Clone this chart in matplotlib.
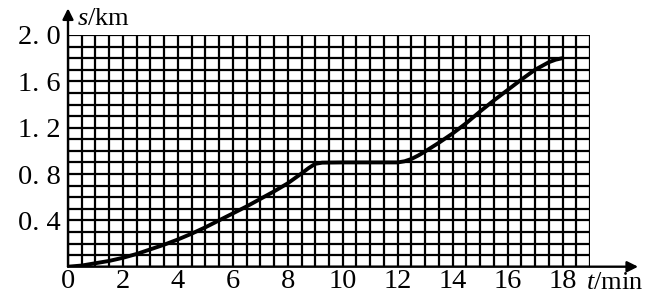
import numpy as np
import matplotlib
matplotlib.use("Agg")
import matplotlib.pyplot as plt

plt.rcParams['font.family'] = ['Liberation Serif', 'DejaVu Serif']
plt.rcParams['mathtext.fontset'] = 'custom'
plt.rcParams['mathtext.it'] = 'Liberation Serif:italic'
plt.rcParams['mathtext.rm'] = 'Liberation Serif'

# distance-time curve (t in min, s in km)
t_vals = [0, 0.5, 1, 1.5, 2, 2.5, 3, 3.5, 4, 4.5, 5, 5.5, 6, 6.5, 7, 7.5, 8, 8.5, 8.75, 9,
          9.25, 10, 11, 12, 12.25, 12.5, 12.75, 13, 13.5, 14, 14.5, 15, 15.5, 16, 16.5, 17,
          17.5, 17.75, 18]
s_vals = [0, 0.01, 0.03, 0.05, 0.077, 0.11, 0.15, 0.19, 0.235, 0.285, 0.34, 0.40, 0.46, 0.52,
          0.585, 0.65, 0.72, 0.805, 0.85, 0.888,
          0.898, 0.90, 0.90, 0.90, 0.91, 0.93, 0.96, 0.995, 1.07, 1.15, 1.24, 1.34, 1.435,
          1.525, 1.615, 1.70, 1.765, 1.787, 1.80]

x_ticks = [0, 2, 4, 6, 8, 10, 12, 14, 16, 18]
y_ticks = [0.4, 0.8, 1.2, 1.6, 2.0]
y_labels = ['0. 4', '0. 8', '1. 2', '1. 6', '2. 0']

fig = plt.figure(figsize=(6.72, 2.96), dpi=100)
ax = fig.add_axes([68 / 672, 29.3 / 296, 522 / 672, 231.7 / 296])
ax.set_xlim(0, 19)
ax.set_ylim(0, 2.0)

# grid paper
for xv in np.arange(0, 19.01, 0.5):
    ax.axvline(xv, color='black', lw=1.6, zorder=1)
for yv in np.arange(0, 2.001, 0.1):
    ax.axhline(yv, color='black', lw=1.6, zorder=1)

ax.plot(t_vals, s_vals, color='black', lw=2.8, solid_capstyle='round',
        solid_joinstyle='round', zorder=3)

for sp in ax.spines.values():
    sp.set_visible(False)

ax.set_xticks(x_ticks)
ax.set_xticklabels([str(v) for v in x_ticks])
ax.set_yticks(y_ticks)
ax.set_yticklabels(y_labels)
ax.tick_params(length=0, labelsize=20.5)
ax.tick_params(axis='x', pad=2)
ax.tick_params(axis='y', pad=5)

# axes with arrows
ax.annotate('', xy=(20.75, 0), xytext=(0, 0), xycoords='data',
            arrowprops=dict(arrowstyle='-|>', color='black', lw=1.7,
                            mutation_scale=16, shrinkA=0, shrinkB=0),
            annotation_clip=False, zorder=4)
ax.annotate('', xy=(0, 2.23), xytext=(0, 0), xycoords='data',
            arrowprops=dict(arrowstyle='-|>', color='black', lw=1.7,
                            mutation_scale=16, shrinkA=0, shrinkB=0),
            annotation_clip=False, zorder=4)

ax.text(0.33, 2.14, r'$s$/km', fontsize=19, ha='left', va='center', clip_on=False)
ax.text(18.85, -0.14, r'$t$/min', fontsize=19, ha='left', va='center', clip_on=False)

fig.savefig('out.png', dpi=100, facecolor='white')
